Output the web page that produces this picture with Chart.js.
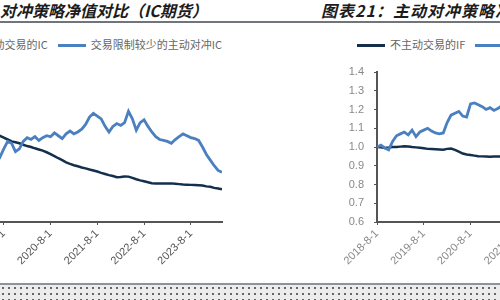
<!DOCTYPE html>
<html>
<head>
<meta charset="utf-8">
<script src="https://cdn.jsdelivr.net/npm/chart.js@4.4.1/dist/chart.umd.min.js"></script>
<style>
  html, body { margin: 0; padding: 0; }
  body { width: 500px; height: 300px; overflow: hidden; position: relative; background: #fff;
         font-family: "Noto Sans CJK SC", "Noto Sans", sans-serif; }
  .title { position: absolute; top: 0; height: 20px; line-height: 20px; white-space: nowrap;
           font-size: 16px; font-weight: bold; font-style: italic; color: #1c1c1c; }
  .rule { position: absolute; left: 0; width: 500px; height: 2px; background: #6f757b; }
  .legend { position: absolute; top: 36px; height: 16px; line-height: 16px; white-space: nowrap;
            font-size: 11px; color: #666; }
  .legend span.sw { display: inline-block; width: 28px; height: 3px; vertical-align: middle;
                    margin: 0 5px 2px 0; }
  .legend span.item { margin-right: 10px; }
  .legend span.item:last-child { margin-right: 0; }
  canvas { position: absolute; top: 0; }
  .foot { position: absolute; left: 0; top: 285px; width: 500px; height: 15px; background-color: #ececec;
          background-image: radial-gradient(#666 0.8px, transparent 1.2px); background-size: 6px 6px; }
</style>
</head>
<body>
<div class="title" style="left:0">对冲策略净值对比（IC期货）</div>
<div class="title" style="left:321px; letter-spacing:1px">图表21：主动对冲策略净值对比（IF期货）</div>
<div class="rule" style="top:21px"></div>
<div class="legend" id="legendLeft" style="right:278px"></div>
<div class="legend" id="legendRight" style="left:357px"></div>
<canvas id="chartLeft" width="320" height="284" style="left:-88px"></canvas>
<canvas id="chartRight" width="320" height="284" style="left:332px"></canvas>
<div class="rule" style="top:283px; background:#8d9399"></div>
<div class="foot"></div>
<script>
// x = months since 2018-8-1, one value per month
const xTickValues = [0, 12, 24, 36, 48, 60];
const xTickLabels = ['2018-8-1', '2019-8-1', '2020-8-1', '2021-8-1', '2022-8-1', '2023-8-1'];
const yTicks = [0.6, 0.7, 0.8, 0.9, 1.0, 1.1, 1.2, 1.3, 1.4];

const leftLabels = ['不主动交易的IC', '交易限制较少的主动对冲IC'];
const leftPassive = [1.0, 1.005, 1.01, 1.015, 1.02, 1.03, 1.035, 1.04, 1.045, 1.05, 1.055,
  1.06, 1.05, 1.04, 1.03, 1.025, 1.02, 1.012, 1.005, 1.0, 0.993, 0.987, 0.981, 0.972, 0.962,
  0.951, 0.94, 0.93, 0.918, 0.91, 0.903, 0.897, 0.891, 0.886, 0.88, 0.875, 0.869, 0.862, 0.856,
  0.85, 0.845, 0.839, 0.84, 0.843, 0.842, 0.835, 0.828, 0.822, 0.817, 0.812, 0.807, 0.805, 0.805,
  0.806, 0.806, 0.806, 0.804, 0.802, 0.8, 0.799, 0.798, 0.797, 0.796, 0.795, 0.79, 0.788, 0.782,
  0.779, 0.775];
const leftActive = [1.0, 0.99, 1.01, 0.98, 0.97, 0.99, 0.96, 0.98, 0.95, 0.97, 0.96,
  0.945, 0.99, 1.03, 1.02, 0.975, 0.99, 1.03, 1.05, 1.04, 1.055, 1.035, 1.05, 1.06, 1.055,
  1.075, 1.06, 1.045, 1.07, 1.085, 1.07, 1.08, 1.095, 1.12, 1.16, 1.18, 1.165, 1.15, 1.11,
  1.08, 1.11, 1.125, 1.115, 1.13, 1.19, 1.15, 1.09, 1.13, 1.145, 1.11, 1.08, 1.055, 1.04,
  1.035, 1.03, 1.02, 1.04, 1.055, 1.07, 1.06, 1.05, 1.045, 1.035, 1.0, 0.96, 0.93, 0.9,
  0.875, 0.865];

const rightLabels = ['不主动交易的IF', '交易限制较少的主动对冲IF'];
const rightPassive = [1.0, 0.998, 0.995, 0.997, 1.0, 1.0, 1.002, 1.004, 1.003, 1.0, 0.998,
  0.996, 0.993, 0.99, 0.989, 0.988, 0.987, 0.986, 0.99, 0.992, 0.985, 0.975, 0.965, 0.96, 0.957,
  0.954, 0.951, 0.95, 0.949, 0.948, 0.949, 0.95, 0.95, 0.951, 0.95, 0.948, 0.946, 0.945, 0.944,
  0.943, 0.942, 0.94, 0.939, 0.938, 0.936, 0.935, 0.934, 0.932, 0.93, 0.929, 0.928, 0.927, 0.926,
  0.925, 0.924, 0.922, 0.92, 0.918, 0.917, 0.915, 0.914, 0.912, 0.91, 0.909, 0.908, 0.906, 0.905,
  0.903, 0.902];
const rightActive = [1.0, 1.01, 0.995, 0.985, 1.03, 1.06, 1.07, 1.08, 1.065, 1.09, 1.055,
  1.08, 1.09, 1.1, 1.085, 1.075, 1.07, 1.075, 1.13, 1.17, 1.18, 1.19, 1.165, 1.16, 1.23,
  1.235, 1.225, 1.215, 1.2, 1.21, 1.195, 1.205, 1.22, 1.24, 1.23, 1.26, 1.28, 1.27, 1.25,
  1.26, 1.29, 1.31, 1.3, 1.28, 1.27, 1.29, 1.3, 1.28, 1.26, 1.25, 1.24, 1.23, 1.25, 1.26,
  1.27, 1.26, 1.25, 1.24, 1.23, 1.24, 1.25, 1.22, 1.2, 1.18, 1.17, 1.19, 1.2, 1.21, 1.2];

const navy = '#132f4c';
const blue = '#4a7fc0';

const toPoints = arr => arr.map((v, i) => ({ x: i, y: v }));

const buildLegend = (id, labels) => {
  const colors = [navy, blue];
  document.getElementById(id).innerHTML = labels.map((l, i) =>
    `<span class="item"><span class="sw" style="background:${colors[i]}"></span>${l}</span>`).join('');
};

const createNavChart = (canvasId, passive, active, labels, tickColor) => {
  const ctx = document.getElementById(canvasId);
  return new Chart(ctx, {
    type: 'line',
    data: {
      datasets: [
        { label: labels[0], data: toPoints(passive), borderColor: navy, borderWidth: 2.5,
          pointRadius: 0, fill: false, order: 2 },
        { label: labels[1], data: toPoints(active), borderColor: blue, borderWidth: 2.8,
          pointRadius: 0, fill: false, order: 1 }
      ]
    },
    options: {
      responsive: false,
      animation: false,
      layout: { padding: { top: 72, right: 10, left: 0, bottom: 0 } },
      plugins: { legend: { display: false }, tooltip: { enabled: false } },
      scales: {
        x: {
          type: 'linear', min: 0, max: 68,
          afterBuildTicks: scale => { scale.ticks = xTickValues.map(v => ({ value: v })); },
          afterFit: scale => { scale.height = 62; },
          border: { color: '#555', width: 2 },
          grid: { drawOnChartArea: false, tickLength: 3, color: '#555' },
          ticks: {
            minRotation: 45, maxRotation: 45, autoSkip: false, padding: 2,
            color: tickColor, font: { size: 11, family: 'Arial, "Liberation Sans"' },
            callback: (v, i) => xTickLabels[i]
          }
        },
        y: {
          min: 0.6, max: 1.4,
          afterBuildTicks: scale => { scale.ticks = yTicks.map(v => ({ value: v })); },
          afterFit: scale => { scale.width = 45; },
          border: { color: '#555', width: 2 },
          grid: { drawOnChartArea: false, tickLength: 3, color: '#555' },
          ticks: {
            padding: 10, color: '#888', font: { size: 11, family: 'Arial, "Liberation Sans"' },
            callback: v => v.toFixed(1)
          }
        }
      }
    }
  });
};

buildLegend('legendLeft', leftLabels);
buildLegend('legendRight', rightLabels);
createNavChart('chartLeft', leftPassive, leftActive, leftLabels, '#555');
createNavChart('chartRight', rightPassive, rightActive, rightLabels, '#888');
</script>
</body>
</html>
